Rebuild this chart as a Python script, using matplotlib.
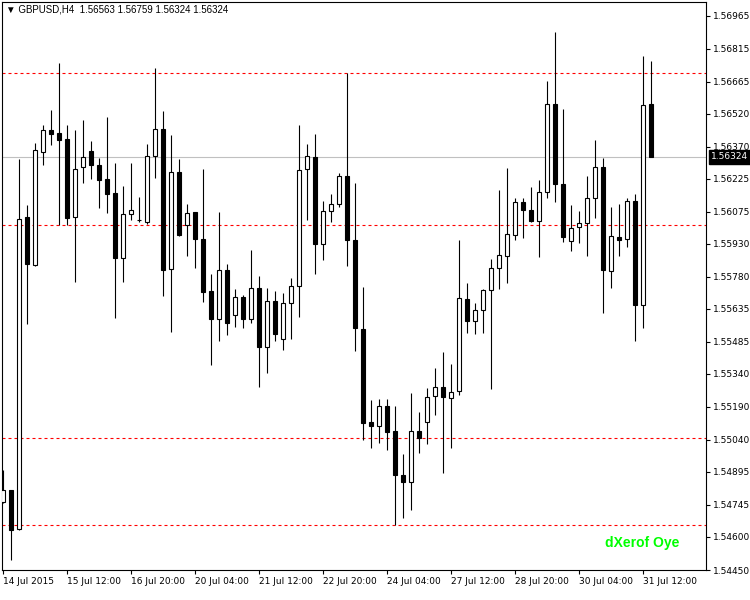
import pandas as pd
import matplotlib
matplotlib.use('Agg')
import matplotlib.pyplot as plt

# GBPUSD H4 bars
opens = [1.54759, 1.54812, 1.54638, 1.56052, 1.55834, 1.56346, 1.56445, 1.56432, 1.56406, 1.56051,
         1.56279, 1.56352, 1.56289, 1.56222, 1.56159, 1.55865, 1.56064, 1.56037, 1.56027, 1.56328,
         1.56449, 1.55814, 1.56257, 1.56015, 1.56073, 1.55952, 1.55715, 1.55590, 1.55809, 1.55608,
         1.55688, 1.55590, 1.55729, 1.55460, 1.55670, 1.55499, 1.55661, 1.55737, 1.56270, 1.56324,
         1.55930, 1.56078, 1.56109, 1.56239, 1.55948, 1.55545, 1.55120, 1.55105, 1.55196, 1.55080,
         1.54883, 1.54847, 1.55080, 1.55120, 1.55241, 1.55281, 1.55232, 1.55263, 1.55679, 1.55581,
         1.55630, 1.55720, 1.55818, 1.55876, 1.55970, 1.56118, 1.56082, 1.56033, 1.56163, 1.56565,
         1.56203, 1.55943, 1.56006, 1.56024, 1.56136, 1.56279, 1.55805, 1.55961, 1.55952, 1.56122,
         1.55652, 1.56563]
highs = [1.54902, 1.54812, 1.56316, 1.56106, 1.56388, 1.56468, 1.56535, 1.56750, 1.56468, 1.56446,
         1.56491, 1.56397, 1.56321, 1.56504, 1.56298, 1.56191, 1.56298, 1.56142, 1.56383, 1.56728,
         1.56531, 1.56424, 1.56316, 1.56110, 1.56075, 1.56271, 1.55791, 1.56074, 1.55840, 1.55725,
         1.55697, 1.55900, 1.55782, 1.55729, 1.55715, 1.55706, 1.55773, 1.56468, 1.56383, 1.56428,
         1.56122, 1.56158, 1.56252, 1.56705, 1.56207, 1.55733, 1.55223, 1.55227, 1.55227, 1.55196,
         1.54978, 1.55254, 1.55165, 1.55277, 1.55366, 1.55438, 1.55384, 1.55948, 1.55751, 1.55663,
         1.55724, 1.55863, 1.56173, 1.56274, 1.56136, 1.56136, 1.56189, 1.56221, 1.56670, 1.56893,
         1.56543, 1.56104, 1.56078, 1.56239, 1.56400, 1.56319, 1.56095, 1.56109, 1.56136, 1.56154,
         1.56782, 1.56759]
lows = [1.54754, 1.54495, 1.54633, 1.55564, 1.55830, 1.56286, 1.56376, 1.56016, 1.56013, 1.55758,
        1.56206, 1.56223, 1.56094, 1.56071, 1.55592, 1.55758, 1.56040, 1.56027, 1.56022, 1.56228,
        1.55691, 1.55530, 1.55966, 1.55874, 1.55821, 1.55664, 1.55378, 1.55490, 1.55514, 1.55552,
        1.55548, 1.55570, 1.55279, 1.55342, 1.55490, 1.55449, 1.55499, 1.55597, 1.56036, 1.55794,
        1.55857, 1.56031, 1.56095, 1.55830, 1.55445, 1.55038, 1.55002, 1.55024, 1.54993, 1.54653,
        1.54684, 1.54720, 1.54979, 1.55020, 1.55151, 1.54890, 1.55002, 1.55245, 1.55527, 1.55521,
        1.55525, 1.55270, 1.55727, 1.55754, 1.55948, 1.55955, 1.56028, 1.55872, 1.56140, 1.56118,
        1.55937, 1.55899, 1.55934, 1.55876, 1.56046, 1.55617, 1.55729, 1.55876, 1.55916, 1.55487,
        1.55548, 1.56324]
closes = [1.54812, 1.54633, 1.56043, 1.55837, 1.56355, 1.56445, 1.56429, 1.56402, 1.56049, 1.56271,
          1.56324, 1.56286, 1.56219, 1.56156, 1.55865, 1.56064, 1.56082, 1.56037, 1.56328, 1.56453,
          1.55809, 1.56257, 1.55968, 1.56069, 1.55950, 1.55713, 1.55590, 1.55809, 1.55570, 1.55688,
          1.55590, 1.55729, 1.55460, 1.55670, 1.55521, 1.55661, 1.55737, 1.56266, 1.56328, 1.55930,
          1.56078, 1.56109, 1.56239, 1.55946, 1.55548, 1.55118, 1.55105, 1.55196, 1.55078, 1.54881,
          1.54850, 1.55080, 1.55047, 1.55236, 1.55281, 1.55236, 1.55259, 1.55684, 1.55581, 1.55630,
          1.55720, 1.55818, 1.55881, 1.55975, 1.56118, 1.56082, 1.56033, 1.56163, 1.56565, 1.56203,
          1.55959, 1.56002, 1.56024, 1.56136, 1.56279, 1.55809, 1.55966, 1.55948, 1.56122, 1.55652,
          1.56561, 1.56324]

# support / resistance levels (red dashed)
levels = [1.56705, 1.56015, 1.55050, 1.54655]
last_price = 1.56324

price_ticks = [1.56965, 1.56815, 1.56665, 1.56520, 1.56370, 1.56225, 1.56075, 1.55930, 1.55780,
               1.55635, 1.55485, 1.55340, 1.55190, 1.55040, 1.54895, 1.54745, 1.54600, 1.54450]
header = '\u25BC GBPUSD,H4  1.56563 1.56759 1.56324 1.56324'
watermark = 'dXerof Oye'

# bar times (H4, weekdays only), first bar 14 Jul 2015 04:00
days = pd.bdate_range('2015-07-14', '2015-07-31')
times = [d + pd.Timedelta(hours=h) for d in days for h in range(0, 24, 4)][1:1 + len(opens)]

fig = plt.figure(figsize=(7.5, 6), dpi=100)
ax = fig.add_axes([2 / 750, 30 / 600, 704 / 750, 568 / 600])

# candles
for i in range(len(opens)):
    o, h, l, c = opens[i], highs[i], lows[i], closes[i]
    ax.vlines(i, l, h, color='black', lw=0.8, zorder=3)
    fc = 'white' if c >= o else 'black'
    ax.bar(i, abs(c - o), bottom=min(o, c), width=0.55, facecolor=fc,
           edgecolor='black', lw=0.8, zorder=4)

for lev in levels:
    ax.axhline(lev, color='red', lw=0.8, dashes=(2.7, 2.7), zorder=2)
ax.axhline(last_price, color='#c0c0c0', lw=0.8, zorder=1)

ax.set_xlim(-0.125, 87.875)
ax.set_ylim(1.544858, 1.57027)

# axes / ticks
for s in ax.spines.values():
    s.set_linewidth(0.8)
ax.yaxis.tick_right()
ax.set_yticks(price_ticks)
ax.set_yticklabels(['%.5f' % p for p in price_ticks])
ax.tick_params(axis='y', length=3, width=0.8, pad=2, labelsize=6.5)

xt = list(range(0, len(opens), 8))
xl = [times[0].strftime('%d %b %Y')] + [times[j].strftime('%d %b %H:%M') for j in xt[1:]]
ax.set_xticks(xt)
ax.set_xticklabels(xl, ha='left')
ax.tick_params(axis='x', length=3, width=0.8, pad=2, labelsize=6.5)

# current price tag on the scale
ax.text(1.007, last_price, '%.5f' % last_price, transform=ax.get_yaxis_transform(),
        ha='left', va='center', color='white', fontsize=6.5, clip_on=False,
        bbox=dict(boxstyle='square,pad=0.25', fc='black', ec='black'))

ax.text(0.0057, 0.986, header, transform=ax.transAxes, ha='left', va='center',
        fontsize=7, family=['Liberation Sans', 'DejaVu Sans'])
ax.text(0.909, 0.0475, watermark, transform=ax.transAxes, ha='center', va='center',
        color='#00ff00', fontsize=10, fontweight='bold', family='Liberation Sans')

fig.savefig('out.png', dpi=100)
